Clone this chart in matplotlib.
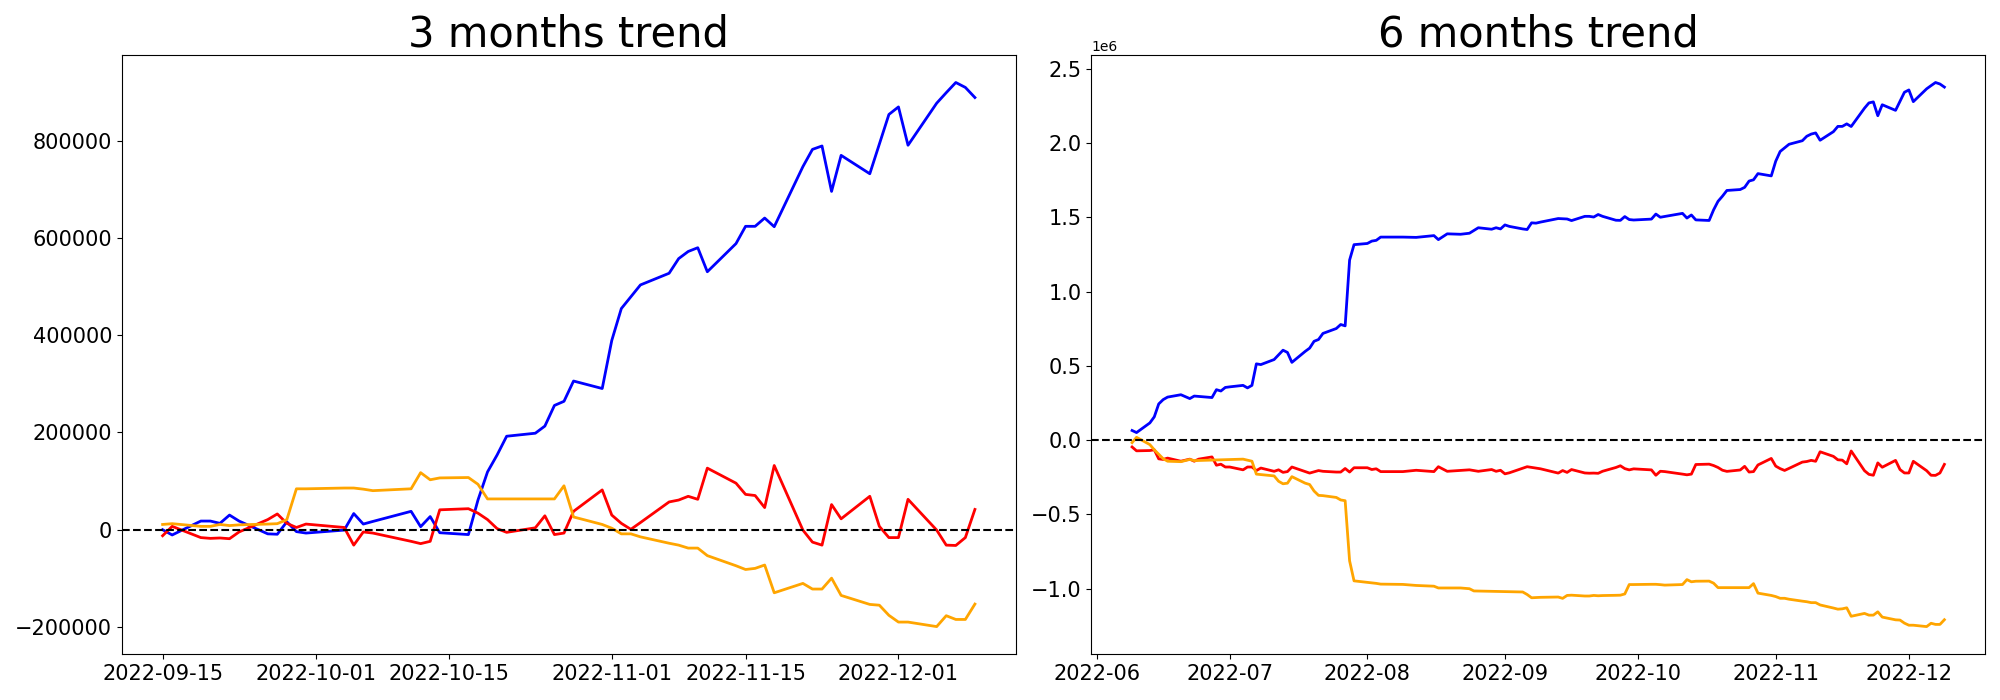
import matplotlib
matplotlib.use("Agg")
import matplotlib.pyplot as plt
import matplotlib.dates as mdates
import numpy as np
import pandas as pd

# ---------------- 3 months trend ----------------
dates_3m = ["2022-09-15", "2022-09-16", "2022-09-19", "2022-09-20", "2022-09-21", "2022-09-22",
            "2022-09-23", "2022-09-26", "2022-09-27", "2022-09-28", "2022-09-29", "2022-09-30",
            "2022-10-04", "2022-10-05", "2022-10-06", "2022-10-07", "2022-10-11", "2022-10-12",
            "2022-10-13", "2022-10-14", "2022-10-17", "2022-10-18", "2022-10-19", "2022-10-20",
            "2022-10-21", "2022-10-24", "2022-10-25", "2022-10-26", "2022-10-27", "2022-10-28",
            "2022-10-31", "2022-11-01", "2022-11-02", "2022-11-03", "2022-11-04", "2022-11-07",
            "2022-11-08", "2022-11-09", "2022-11-10", "2022-11-11", "2022-11-14", "2022-11-15",
            "2022-11-16", "2022-11-17", "2022-11-18", "2022-11-21", "2022-11-22", "2022-11-23",
            "2022-11-24", "2022-11-25", "2022-11-28", "2022-11-29", "2022-11-30", "2022-12-01",
            "2022-12-02", "2022-12-05", "2022-12-06", "2022-12-07", "2022-12-08", "2022-12-09"]

blue_3m = [0, -10800, 17800, 17800, 13100, 30100, 17800, -8500, -9300, 16200,
           -3900, -6900, -800, 33200, 11600, 17000, 37800, 6200, 27000, -6200,
           -10000, 61000, 118900, 153600, 192200, 198400, 213100, 255500, 264000, 305700,
           290300, 389100, 454700, 479000, 503300, 527300, 557400, 572100, 579800, 530400,
           588300, 623800, 623800, 640800, 623000, 746500, 782000, 789000, 695600, 769700,
           731900, 792800, 853800, 869300, 790500, 877000, 898600, 919500, 909400, 888600]

red_3m = [-12400, 6900, -16200, -17800, -17000, -18500, -4600, 20800, 32400, 13100,
          4600, 11600, 4600, -31700, -4600, -6900, -23900, -28600, -23900, 40900,
          43200, 34000, 20800, 2300, -5400, 3900, 28600, -10000, -6900, 37800,
          81800, 30100, 13100, 800, 14700, 57100, 61000, 68700, 62500, 126600,
          95700, 72600, 70300, 45500, 132000, -800, -25500, -31700, 51700, 22400,
          68700, 6900, -16200, -16200, 62500, -800, -31700, -32400, -16200, 41700]

orange_3m = [10800, 12400, 6900, 6900, 10800, 8500, 10000, 11600, 12400, 20800,
             84100, 84100, 85700, 85700, 83400, 80300, 84100, 117300, 102700, 106500,
             107300, 93400, 63300, 63300, 63300, 63300, 63300, 63300, 90300, 26200,
             10800, 3100, -8500, -8500, -14700, -27800, -31700, -37800, -37800, -53300,
             -74100, -81800, -79500, -72600, -129700, -110400, -122000, -122000, -99600, -135100,
             -153600, -155200, -176000, -189900, -189900, -199200, -176800, -184500, -184500, -152900]

# ---------------- 6 months trend (values in millions) ----------------
blue_6m_dates = ["2022-06-09", "2022-06-10", "2022-06-13", "2022-06-14", "2022-06-15", "2022-06-16",
                 "2022-06-17", "2022-06-20", "2022-06-22", "2022-06-23", "2022-06-27", "2022-06-28",
                 "2022-06-29", "2022-06-30", "2022-07-01", "2022-07-04", "2022-07-05", "2022-07-06",
                 "2022-07-07", "2022-07-08", "2022-07-11", "2022-07-13", "2022-07-14", "2022-07-15",
                 "2022-07-18", "2022-07-19", "2022-07-20", "2022-07-21", "2022-07-22", "2022-07-25",
                 "2022-07-26", "2022-07-27", "2022-07-28", "2022-07-29", "2022-08-01", "2022-08-02",
                 "2022-08-03", "2022-08-04", "2022-08-09", "2022-08-12", "2022-08-16", "2022-08-17",
                 "2022-08-19", "2022-08-22", "2022-08-24", "2022-08-26", "2022-08-29", "2022-08-30",
                 "2022-08-31", "2022-09-01", "2022-09-02", "2022-09-05", "2022-09-06", "2022-09-07",
                 "2022-09-08", "2022-09-09", "2022-09-13"] + dates_3m
blue_6m = [0.065, 0.051, 0.116, 0.157, 0.244, 0.273, 0.290, 0.306, 0.280, 0.297,
           0.287, 0.340, 0.331, 0.355, 0.359, 0.369, 0.352, 0.369, 0.514, 0.509,
           0.543, 0.606, 0.591, 0.524, 0.598, 0.620, 0.666, 0.678, 0.719, 0.752,
           0.779, 0.770, 1.213, 1.317, 1.325, 1.341, 1.346, 1.368, 1.368, 1.366,
           1.378, 1.351, 1.390, 1.387, 1.394, 1.431, 1.421, 1.431, 1.423, 1.450,
           1.440, 1.423, 1.419, 1.464, 1.462, 1.469, 1.493,
           1.4900, 1.4792, 1.5078, 1.5078, 1.5031, 1.5201, 1.5078, 1.4815, 1.4807, 1.5062,
           1.4861, 1.4831, 1.4892, 1.5232, 1.5016, 1.5070, 1.5278, 1.4962, 1.5170, 1.4838,
           1.4800, 1.5510, 1.6089, 1.6436, 1.6822, 1.6884, 1.7031, 1.7455, 1.7540, 1.7957,
           1.7803, 1.8791, 1.9447, 1.9690, 1.9933, 2.0173, 2.0474, 2.0621, 2.0698, 2.0204,
           2.0783, 2.1138, 2.1138, 2.1308, 2.1130, 2.2365, 2.2720, 2.2790, 2.1856, 2.2597,
           2.2219, 2.2828, 2.3438, 2.3593, 2.2805, 2.3670, 2.3886, 2.4095, 2.3994, 2.3786]

red_6m_dates = ["2022-06-09", "2022-06-10", "2022-06-13", "2022-06-14", "2022-06-15", "2022-06-16",
                "2022-06-17", "2022-06-20", "2022-06-22", "2022-06-23", "2022-06-24", "2022-06-27",
                "2022-06-28", "2022-06-29", "2022-06-30", "2022-07-01", "2022-07-04", "2022-07-05",
                "2022-07-06", "2022-07-07", "2022-07-08", "2022-07-11", "2022-07-12", "2022-07-13",
                "2022-07-14", "2022-07-15", "2022-07-19", "2022-07-21", "2022-07-22", "2022-07-25",
                "2022-07-26", "2022-07-27", "2022-07-28", "2022-07-29", "2022-08-01", "2022-08-02",
                "2022-08-03", "2022-08-04", "2022-08-09", "2022-08-12", "2022-08-16", "2022-08-17",
                "2022-08-19", "2022-08-24", "2022-08-26", "2022-08-29", "2022-08-30", "2022-08-31",
                "2022-09-01", "2022-09-02", "2022-09-06", "2022-09-09", "2022-09-13",
                "2022-09-14"] + dates_3m
red_6m = [-0.046, -0.072, -0.070, -0.065, -0.126, -0.130, -0.121, -0.142, -0.128, -0.142,
          -0.128, -0.113, -0.169, -0.162, -0.181, -0.181, -0.200, -0.181, -0.181, -0.205,
          -0.188, -0.210, -0.200, -0.217, -0.212, -0.181, -0.222, -0.205, -0.210, -0.215,
          -0.215, -0.191, -0.215, -0.186, -0.186, -0.198, -0.193, -0.212, -0.212, -0.203,
          -0.212, -0.179, -0.210, -0.200, -0.210, -0.198, -0.210, -0.203, -0.227, -0.220,
          -0.179, -0.193, -0.222, -0.205,
          -0.2174, -0.1981, -0.2212, -0.2228, -0.2220, -0.2235, -0.2096, -0.1842, -0.1726, -0.1919,
          -0.2004, -0.1934, -0.2004, -0.2367, -0.2096, -0.2119, -0.2289, -0.2336, -0.2289, -0.1641,
          -0.1618, -0.1710, -0.1842, -0.2027, -0.2104, -0.2011, -0.1764, -0.2150, -0.2119, -0.1672,
          -0.1232, -0.1749, -0.1919, -0.2042, -0.1903, -0.1479, -0.1440, -0.1363, -0.1425, -0.0784,
          -0.1093, -0.1324, -0.1347, -0.1595, -0.0730, -0.2058, -0.2305, -0.2367, -0.1533, -0.1826,
          -0.1363, -0.1981, -0.2212, -0.2212, -0.1425, -0.2058, -0.2367, -0.2374, -0.2212, -0.1633]

orange_6m_dates = ["2022-06-09", "2022-06-10", "2022-06-13", "2022-06-14", "2022-06-15", "2022-06-16",
                   "2022-06-17", "2022-06-20", "2022-06-22", "2022-06-23", "2022-07-04", "2022-07-06",
                   "2022-07-07", "2022-07-11", "2022-07-12", "2022-07-13", "2022-07-14", "2022-07-15",
                   "2022-07-18", "2022-07-19", "2022-07-20", "2022-07-21", "2022-07-22", "2022-07-25",
                   "2022-07-26", "2022-07-27", "2022-07-28", "2022-07-29", "2022-08-03", "2022-08-04",
                   "2022-08-09", "2022-08-12", "2022-08-16", "2022-08-17", "2022-08-22", "2022-08-24",
                   "2022-08-25", "2022-09-05", "2022-09-06", "2022-09-07", "2022-09-09", "2022-09-13",
                   "2022-09-14"] + dates_3m
orange_6m = [-0.017, 0.019, -0.030, -0.065, -0.095, -0.125, -0.142, -0.145, -0.130, -0.138,
             -0.128, -0.142, -0.229, -0.241, -0.277, -0.294, -0.290, -0.246, -0.290, -0.299,
             -0.343, -0.372, -0.374, -0.386, -0.403, -0.408, -0.813, -0.948, -0.965, -0.970,
             -0.972, -0.979, -0.984, -0.996, -0.996, -1.001, -1.016, -1.023, -1.040, -1.062,
             -1.059, -1.057, -1.066,
             -1.0462, -1.0446, -1.0501, -1.0501, -1.0462, -1.0485, -1.0470, -1.0454, -1.0446, -1.0362,
             -0.9729, -0.9729, -0.9713, -0.9713, -0.9736, -0.9767, -0.9729, -0.9397, -0.9543, -0.9505,
             -0.9497, -0.9636, -0.9937, -0.9937, -0.9937, -0.9937, -0.9937, -0.9937, -0.9667, -1.0308,
             -1.0462, -1.0539, -1.0655, -1.0655, -1.0717, -1.0848, -1.0887, -1.0948, -1.0948, -1.1103,
             -1.1311, -1.1388, -1.1365, -1.1296, -1.1867, -1.1674, -1.1790, -1.1790, -1.1566, -1.1921,
             -1.2106, -1.2122, -1.2330, -1.2469, -1.2469, -1.2562, -1.2338, -1.2415, -1.2415, -1.2099]

titles = ["3 months trend", "6 months trend"]
series_colors = ["blue", "red", "orange"]

fig, axes = plt.subplots(1, 2, figsize=(20, 7), dpi=100)
fig.subplots_adjust(left=0.061, right=0.9925, bottom=0.066, top=0.921, wspace=0.085)

# left panel
ax = axes[0]
d3 = pd.to_datetime(dates_3m)
for vals, c in zip([blue_3m, red_3m, orange_3m], series_colors):
    ax.plot(d3, vals, color=c, linewidth=2)
ax.axhline(0, color="black", linestyle="--", linewidth=1.5)
ax.set_title(titles[0], fontsize=30)
ax.xaxis.set_major_locator(mdates.DayLocator(bymonthday=[1, 15]))
ax.xaxis.set_major_formatter(mdates.DateFormatter("%Y-%m-%d"))

# right panel
ax = axes[1]
for dts, vals, c in zip([blue_6m_dates, red_6m_dates, orange_6m_dates],
                        [blue_6m, red_6m, orange_6m], series_colors):
    ax.plot(pd.to_datetime(dts), np.array(vals) * 1e6, color=c, linewidth=2)
ax.axhline(0, color="black", linestyle="--", linewidth=1.5)
ax.set_title(titles[1], fontsize=30)
ax.xaxis.set_major_locator(mdates.MonthLocator())
ax.xaxis.set_major_formatter(mdates.DateFormatter("%Y-%m"))

for ax in axes:
    ax.tick_params(axis="both", labelsize=15)

fig.savefig("out.png", dpi=100)
